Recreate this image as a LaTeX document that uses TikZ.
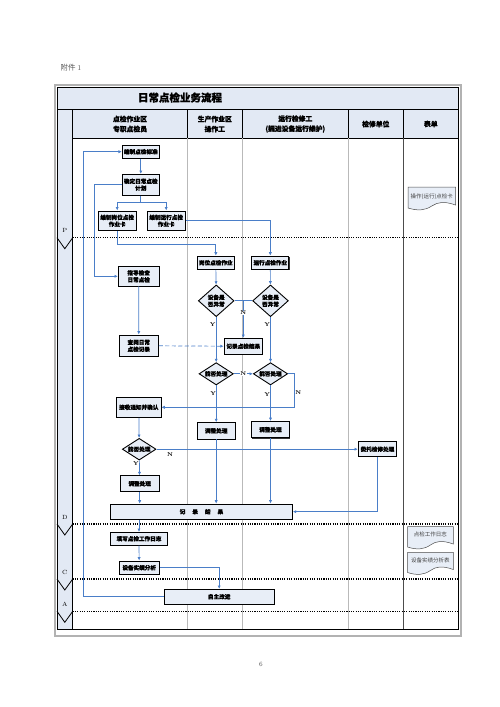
\documentclass[tikz,border=0pt]{standalone}
\usepackage{fontspec}
\usepackage{xcolor}
\usepackage{tikz}
\usetikzlibrary{shapes.geometric,arrows.meta,shadows}
\newfontfamily\cjk{Noto Sans CJK SC}[BoldFeatures={FakeBold=1.3}]
\definecolor{flowblue}{RGB}{74,126,200}
\definecolor{boxfill}{RGB}{232,238,247}
\definecolor{bandfill}{RGB}{226,233,244}

\begin{document}
\begin{tikzpicture}[x=1pt, y=-1pt,
  every node/.style={inner sep=0pt},
  stepbox/.style={draw=black, line width=0.9pt, fill=boxfill, align=center,
    minimum height=13pt, font=\cjk\bfseries\fontsize{5.6}{6.9}\selectfont,
    drop shadow={shadow xshift=0.7pt, shadow yshift=-0.7pt, fill=black!80, opacity=1}},
  decide/.style={diamond, draw=black, line width=0.9pt, fill=boxfill, align=center,
    aspect=1.5, font=\cjk\bfseries\fontsize{5.6}{6.9}\selectfont},
  head/.style={align=center, font=\cjk\bfseries\fontsize{6.8}{10}\selectfont},
  flow/.style={draw=flowblue, line width=0.7pt, -{Latex[length=3.4pt,width=3.2pt]}},
  link/.style={draw=flowblue, line width=0.7pt},
  yn/.style={font=\bfseries\fontsize{5.5}{6}\selectfont},
  phase/.style={line width=1.1pt, dash pattern=on 1.1pt off 1.2pt},
  form/.style={draw=black!70, line width=0.5pt, fill=boxfill},
  formtext/.style={font=\cjk\fontsize{5.5}{6}\selectfont, text=black!75}]

\useasboundingbox (0,0) rectangle (500,707);

% frame and lanes
\draw[gray!60, line width=1.2pt] (55,85) rectangle (461,636);
\fill[bandfill] (57,87) rectangle (458.3,138);
\fill[bandfill] (57,138) rectangle (72.7,629.3);
\draw[line width=0.7pt] (57,87) rectangle (458.3,629.3);
\draw[line width=0.7pt] (57,109) -- (458.3,109);
\draw[line width=0.7pt] (72.7,138) -- (458.3,138);
\draw[line width=0.7pt] (72.7,109) -- (72.7,629.3);
\foreach \cx in {187.3,242.3,348.3} {
  \draw[line width=0.6pt] (\cx,109) -- (\cx,138);
  \draw[gray!55, line width=0.5pt] (\cx,138) -- (\cx,629.3);
}
\draw[line width=0.6pt] (403.3,109) -- (403.3,138);
\draw[black!70, line width=0.6pt] (403.3,138) -- (403.3,629.3);

\node[font=\cjk\fontsize{7.5}{8}\selectfont, text=black!65] (fujian) at (71,67.7) {附件 {\rmfamily 1}};
\node[font=\cjk\bfseries\fontsize{10.5}{12}\selectfont] (title) at (180,97.5) {日常点检业务流程};
\node[head] (hdA) at (130,124) {点检作业区\\专职点检员};
\node[head] (hdB) at (214.8,124) {生产作业区\\操作工};
\node[head] (hdC) at (295.3,124) {运行检修工\\(掘进设备运行维护)};
\node[head] (hdD) at (375.8,124) {检修单位};
\node[head] (hdE) at (430.8,124) {表单};

% PDCA phases
\foreach \py/\lt in {237.7/P, 524/D, 579/C, 611.3/A} {
  \draw[phase] (72.7,\py) -- (458.3,\py);
  \draw[line width=0.8pt] (57,\py) -- (64.8,\py+11) -- (72.7,\py);
  \node[font=\fontsize{6}{7}\selectfont] (ph\lt) at (64.8,\py-7) {\lt};
}

% steps
\node[stepbox, minimum width=37pt] (bzbz) at (140.8,151.7) {编制点检标准};
\node[stepbox, minimum width=37pt, minimum height=20.7pt] (qdjh) at (140.8,184.7) {确定日常点检\\计划};
\node[stepbox, minimum width=37.7pt, minimum height=19.7pt] (gwk) at (117.2,220.8) {编制岗位点检\\作业卡};
\node[stepbox, minimum width=37.7pt, minimum height=19.7pt] (yxk) at (166.2,220.8) {编制运行点检\\作业卡};
\node[stepbox, minimum width=37pt, minimum height=13.3pt] (gwzy) at (215.8,262.7) {岗位点检作业};
\node[stepbox, minimum width=37pt, minimum height=13.3pt] (yxzy) at (270.3,262.7) {运行点检作业};
\node[stepbox, minimum width=40.7pt, minimum height=19.3pt] (zdjc) at (138.7,276.3) {指导检查\\日常点检};
\node[decide, minimum width=35.7pt, minimum height=31.7pt] (ycA) at (216.2,300.8) {设备是\\否异常};
\node[decide, minimum width=35.7pt, minimum height=31.7pt] (ycB) at (270.5,300.8) {设备是\\否异常};
\node[stepbox, minimum width=38.3pt, minimum height=15.7pt] (jljg) at (243.3,346.2) {记录点检结果};
\node[stepbox, minimum width=39pt, minimum height=21.7pt] (cyjl) at (138.8,345.8) {查阅日常\\点检记录};
\node[decide, minimum width=34.3pt, minimum height=22.3pt] (clA) at (216.2,373.8) {能否处理};
\node[decide, minimum width=34.3pt, minimum height=22.3pt] (clB) at (270.5,373.8) {能否处理};
\node[stepbox, minimum width=44.3pt, minimum height=20pt] (jstz) at (138.8,407.3) {接收通知并确认};
\node[stepbox, minimum width=38.3pt, minimum height=16.3pt] (tzA) at (216.2,430.8) {调整处理};
\node[stepbox, minimum width=38.3pt, minimum height=16.3pt] (tzB) at (270.5,429.7) {调整处理};
\node[decide, minimum width=33.7pt, minimum height=21.7pt] (clC) at (139.2,449.2) {能否处理};
\node[stepbox, minimum width=38.3pt, minimum height=15pt] (wtjx) at (377.5,449.2) {委托检修处理};
\node[stepbox, minimum width=39.3pt, minimum height=16pt] (tzC) at (139.7,483.7) {调整处理};
\node[stepbox, minimum width=181.7pt, minimum height=15.3pt] (jlAll) at (201.5,511.7) {记\hspace{7pt}录\hspace{7pt}结\hspace{7pt}果};
\node[stepbox, minimum width=56.7pt, minimum height=12.7pt] (txrz) at (139,538.7) {填写点检工作日志};
\node[stepbox, minimum width=40.3pt, minimum height=13.3pt] (sjfx) at (139.2,567.7) {设备实绩分析};
\node[stepbox, minimum width=109.7pt, minimum height=14.7pt] (zzgj) at (219.2,596.7) {自主改进};

% forms
\draw[form] (408,187) -- (455.5,187) -- (455.5,205) .. controls (444,201) and (438,202) .. (431.75,206)
  .. controls (425,210.5) and (418,211) .. (408,208) -- cycle;
\node[formtext] (fmA) at (431.8,196.5) {操作(运行)点检卡};
\draw[form] (407.5,526.7) -- (453.3,526.7) -- (453.3,544) .. controls (442,540) and (436,541) .. (430.4,545)
  .. controls (424,549.5) and (417,550) .. (407.5,547) -- cycle;
\node[formtext] (fmB) at (430.4,534.8) {点检工作日志};
\draw[form] (407.5,552.3) -- (453.3,552.3) -- (453.3,569.5) .. controls (442,565.5) and (436,566.5) .. (430.4,570.5)
  .. controls (424,575) and (417,575.5) .. (407.5,572.5) -- cycle;
\node[formtext] (fmC) at (430.4,560.5) {设备实绩分析表};

% connectors
\draw[flow] (bzbz) -- (qdjh);
\draw[flow] (qdjh.south) -- ++(0,6.7) -| (gwk.north);
\draw[flow] (qdjh.south) -- ++(0,6.7) -| (yxk.north);
\draw[flow] (zzgj.west) -- ++(-81,0) |- (bzbz.west);
\draw[flow] (qdjh.west) -- ++(-28,0) |- (zdjc.west);
\draw[flow] (yxk.east) -| (yxzy.north);
\draw[flow] (gwk.south) -- ++(0,13.3) -| (gwzy.north);
\draw[flow] (gwzy) -- (ycA);
\draw[flow] (yxzy) -- (ycB);
\draw[link] (ycA.east) -- (ycB.west);
\draw[flow] (ycA.east -| jljg.north) -- (jljg.north);
\node[yn, fill=white, inner sep=0.6pt] (nA) at (243.3,313) {N};
\draw[flow] (ycA) -- (clA);
\node[yn] (yA) at (212.7,325) {Y};
\draw[flow] (ycB) -- (clB);
\node[yn] (yB) at (267.3,325) {Y};
\draw[flow, dash pattern=on 4pt off 2.5pt] (cyjl.east) -- (jljg.west);
\draw[flow] (zdjc) -- (cyjl);
\draw[flow] (clA) -- node[yn, fill=white, inner sep=0.6pt] (nB) {N} (clB);
\draw[flow] (clB.east) -- ++(6.3,0) |- (jstz.east);
\node[yn] (nC) at (298.3,392.3) {N};
\draw[flow] (clA) -- (tzA);
\node[yn] (yC) at (213.3,394) {Y};
\draw[flow] (clB) -- (tzB);
\node[yn] (yD) at (267.3,395) {Y};
\draw[flow] (jstz) -- (clC);
\draw[flow] (clC) -- (wtjx);
\node[yn] (nD) at (170,454.3) {N};
\draw[flow] (clC) -- (tzC);
\node[yn] (yE) at (136,464) {Y};
\draw[flow] (tzC) -- (tzC |- jlAll.north);
\draw[flow] (tzA) -- (tzA |- jlAll.north);
\draw[flow] (tzB) -- (tzB |- jlAll.north);
\draw[flow] (wtjx.south) |- (jlAll.east);
\draw[flow] (txrz.north |- jlAll.south) -- (txrz.north);
\draw[flow] (txrz) -- (sjfx);
\draw[flow] (sjfx.east) -| (zzgj.north);

\node[font=\fontsize{6.5}{7}\selectfont, text=black!70] (pageno) at (261,664) {6};
\end{tikzpicture}
\end{document}
